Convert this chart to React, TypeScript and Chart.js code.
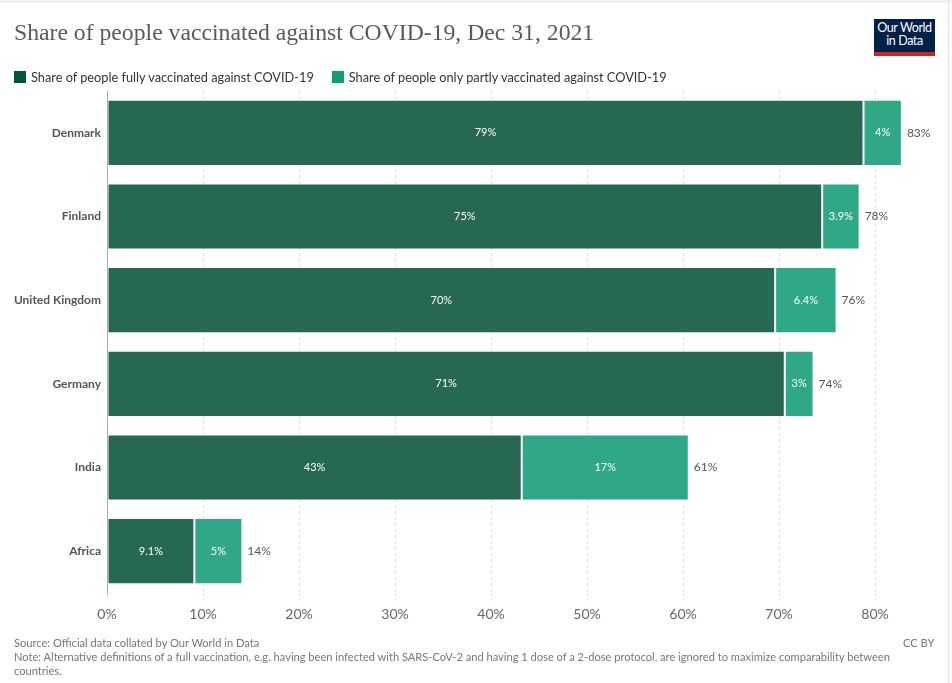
import React, { useEffect, useRef } from "react";
import { Chart, registerables } from "chart.js";

Chart.register(...registerables);

const countries = ["Denmark", "Finland", "United Kingdom", "Germany", "India", "Africa"];
const fullyVaccinated = [78.8, 74.5, 69.6, 70.6, 43.2, 9.1];
const partlyVaccinated = [4.0, 3.9, 6.4, 3.0, 17.4, 5.0];
const xTickValues = [0, 10, 20, 30, 40, 50, 60, 70, 80];

const seriesNames = [
  "Share of people fully vaccinated against COVID-19",
  "Share of people only partly vaccinated against COVID-19",
];

const fmt = (v: number) => `${parseFloat(v.toPrecision(2))}%`;

const labelPlugin = {
  id: "barLabels",
  afterDatasetsDraw(chart: any) {
    const ctx = chart.ctx;
    ctx.save();
    const metas = chart.data.datasets.map((_: any, i: number) => chart.getDatasetMeta(i));
    metas.forEach((meta: any, di: number) => {
      const values = chart.data.datasets[di].data as number[];
      meta.data.forEach((el: any, i: number) => {
        const { x, base, y } = el.getProps(["x", "base", "y"], true);
        ctx.font = "11px Lato";
        ctx.fillStyle = "#ffffff";
        ctx.textAlign = "center";
        ctx.textBaseline = "middle";
        ctx.fillText(fmt(values[i]), (x + base) / 2, y);
        if (di === metas.length - 1) {
          const total = fullyVaccinated[i] + partlyVaccinated[i];
          ctx.font = "12px Lato";
          ctx.fillStyle = "#555555";
          ctx.textAlign = "left";
          ctx.fillText(fmt(total), x + 5, y);
        }
      });
    });
    ctx.restore();
  },
};

export default function App() {
  const canvasRef = useRef<HTMLCanvasElement | null>(null);

  useEffect(() => {
    if (!canvasRef.current) return;
    Chart.defaults.font.family = "Lato";
    const chart = new Chart(canvasRef.current, {
      type: "bar",
      data: {
        labels: countries,
        datasets: [
          {
            label: seriesNames[0],
            data: fullyVaccinated,
            backgroundColor: "#276853",
            borderColor: "rgba(255,255,255,0.3)",
            borderWidth: 1,
            borderSkipped: false,
            barPercentage: 0.79,
            categoryPercentage: 1,
          },
          {
            label: seriesNames[1],
            data: partlyVaccinated,
            backgroundColor: "#2ea886",
            borderColor: "rgba(255,255,255,0.3)",
            borderWidth: 1,
            borderSkipped: false,
            barPercentage: 0.79,
            categoryPercentage: 1,
          },
        ],
      },
      options: {
        indexAxis: "y",
        responsive: false,
        maintainAspectRatio: false,
        animation: false,
        events: [],
        layout: { padding: { top: 91, right: 29, bottom: 60, left: 0 } },
        plugins: {
          legend: { display: false },
          title: { display: false },
          tooltip: { enabled: false },
        },
        scales: {
          x: {
            type: "linear",
            stacked: true,
            min: 0,
            max: 85,
            afterFit: (scale: any) => {
              scale.height = 30;
            },
            afterBuildTicks: (scale: any) => {
              scale.ticks = xTickValues.map((v) => ({ value: v }));
            },
            ticks: {
              stepSize: 10,
              includeBounds: false,
              padding: 5,
              color: "#666666",
              font: { size: 14, family: "Lato" },
              callback: (v: any) => `${v}%`,
            },
            grid: {
              display: true,
              color: "#dddddd",
              drawTicks: true,
              tickLength: 8,
              tickColor: "#dddddd",
              tickBorderDash: [3, 3],
            },
            border: { display: false, dash: [3, 3] },
          },
          y: {
            type: "category",
            stacked: true,
            afterFit: (scale: any) => {
              scale.width = 107;
            },
            ticks: {
              padding: 6,
              color: "#555555",
              font: { size: 12, family: "Lato", weight: "bold" },
            },
            grid: { display: false, drawTicks: false },
            border: { display: true, color: "#aaaaaa", width: 1 },
          },
        },
      },
      plugins: [labelPlugin],
    } as any);
    return () => chart.destroy();
  }, []);

  const footer: React.CSSProperties = {
    position: "absolute",
    left: 14,
    fontFamily: "Lato",
    fontSize: 11.1,
    color: "#777777",
    lineHeight: "13.5px",
    whiteSpace: "nowrap",
  };

  return (
    <div
      style={{
        position: "fixed",
        left: 0,
        top: 0,
        width: 952,
        height: 683,
        background: "#ffffff",
        overflow: "hidden",
      }}
    >
      <canvas
        ref={canvasRef}
        width={952}
        height={683}
        style={{ position: "absolute", left: 0, top: 0, width: 952, height: 683 }}
      />
      <div style={{ position: "absolute", left: 0, top: 0, width: 952, height: 3, background: "#f2f2f2" }} />
      <div style={{ position: "absolute", left: 948, top: 0, width: 1, height: 683, background: "#e4e4e4" }} />
      <div
        style={{
          position: "absolute",
          left: 14,
          top: 17,
          fontFamily: "'Liberation Serif', serif",
          fontSize: 23.7,
          color: "#5a5a5a",
          whiteSpace: "nowrap",
          lineHeight: "30px",
        }}
      >
        Share of people vaccinated against COVID-19, Dec 31, 2021
      </div>
      <div
        style={{
          position: "absolute",
          left: 874,
          top: 19,
          width: 61,
          height: 31,
          background: "#002147",
          borderBottom: "4px solid #ce261e",
          color: "#ffffff",
          fontFamily: "Lato",
          fontSize: 12.5,
          lineHeight: "13px",
          textAlign: "center",
          paddingTop: 2,
          boxSizing: "content-box",
          letterSpacing: "-0.4px",
        }}
      >
        Our World
        <br />
        in Data
      </div>
      <div
        style={{
          position: "absolute",
          left: 14,
          top: 69,
          display: "flex",
          alignItems: "center",
          fontFamily: "Lato",
          fontSize: 12.75,
          color: "#333333",
          whiteSpace: "nowrap",
          lineHeight: "16px",
        }}
      >
        <span style={{ display: "inline-block", width: 12, height: 12, background: "#00553b", marginRight: 5 }} />
        <span style={{ marginRight: 18 }}>{seriesNames[0]}</span>
        <span style={{ display: "inline-block", width: 12, height: 12, background: "#0e9f72", marginRight: 5 }} />
        <span>{seriesNames[1]}</span>
      </div>
      <div style={{ ...footer, top: 636 }}>Source: Official data collated by Our World in Data</div>
      <div style={{ ...footer, top: 636, left: 903 }}>CC BY</div>
      <div style={{ ...footer, top: 650 }}>
        Note: Alternative definitions of a full vaccination, e.g. having been infected with SARS-CoV-2 and having 1 dose
        of a 2-dose protocol, are ignored to maximize comparability between
        <br />
        countries.
      </div>
    </div>
  );
}
